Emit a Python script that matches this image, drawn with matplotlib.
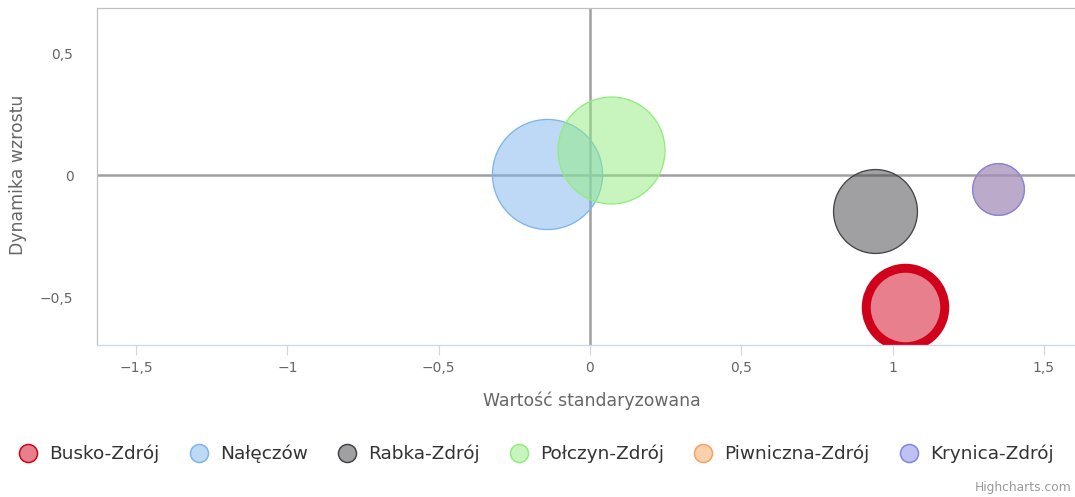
import matplotlib
matplotlib.use('Agg')
from matplotlib import pyplot as plt
from matplotlib.lines import Line2D
from matplotlib.colors import to_rgba
import numpy as np

# data
series = ['Busko-Zdrój', 'Nałęczów', 'Rabka-Zdrój', 'Połczyn-Zdrój', 'Piwniczna-Zdrój', 'Krynica-Zdrój']
x_vals = [1.04, -0.142, 0.941, 0.068, 1.35, 1.35]
y_vals = [-0.539, 0.006, -0.145, 0.105, -0.055, -0.055]
z_vals = [15.4, 30.3, 17.6, 28.6, 6.7, 6.7]
colors = ['#d0021b', '#7cb5ec', '#434348', '#90ed7d', '#f7a35c', '#8085e9']

x_ticks = [-1.5, -1, -0.5, 0, 0.5, 1, 1.5]
x_tick_labels = ['−1,5', '−1', '−0,5', '0', '0,5', '1', '1,5']
y_ticks = [-0.5, 0, 0.5]
y_tick_labels = ['−0,5', '0', '0,5']

W, H = 1075, 497
fig = plt.figure(figsize=(W / 100, H / 100), dpi=100)
ax = fig.add_axes([97 / W, 1 - 345 / H, 978 / W, 337 / H])

ax.set_xlim(-1.629, 1.603)
ax.set_ylim(-0.695, 0.686)

# zero lines
ax.axhline(0, color='#a0a0a0', lw=1.8, zorder=1)
ax.axvline(0, color='#a0a0a0', lw=1.8, zorder=1)

px = 0.72  # points per pixel
for i, name in enumerate(series):
    r = 10 * np.sqrt(z_vals[i])
    lw = 1.3
    if name == 'Busko-Zdrój':
        lw = 9  # selected point
    ax.scatter([x_vals[i]], [y_vals[i]], s=(2 * r * px) ** 2,
               facecolor=to_rgba(colors[i], 0.5), edgecolor=colors[i],
               linewidth=lw * px, zorder=2 + i, clip_on=True)

ax.set_xticks(x_ticks)
ax.set_xticklabels(x_tick_labels)
ax.set_yticks(y_ticks)
ax.set_yticklabels(y_tick_labels)
ax.tick_params(axis='x', length=7.2, width=0.8, color='#ccd6eb', labelcolor='#666666',
               labelsize=10, pad=4)
ax.tick_params(axis='y', length=0, labelcolor='#666666', labelsize=10, pad=17)

for s in ['top', 'left']:
    ax.spines[s].set_color('#c0c0c0')
    ax.spines[s].set_linewidth(0.9)
ax.spines['bottom'].set_color('#ccd6eb')
ax.spines['bottom'].set_linewidth(0.9)
ax.spines['bottom'].set_zorder(10)
ax.spines['right'].set_visible(False)

ax.set_xlabel('Wartość standaryzowana', fontsize=12.4, color='#666666', va='center')
ax.xaxis.set_label_coords(0.5056, -0.166)
ax.set_ylabel('Dynamika wzrostu', fontsize=12.4, color='#666666', va='center', ha='center')
ax.yaxis.set_label_coords(-0.0808, 0.504)

handles = [Line2D([], [], ls='none', marker='o', markersize=13,
                  markerfacecolor=to_rgba(c, 0.5), markeredgecolor=c, markeredgewidth=1.1)
           for c in colors]
fig.legend(handles, series, ncol=6, loc='center left', bbox_to_anchor=(18.75 / W, 1 - 454 / H),
           frameon=False, fontsize=13.3, labelcolor='#333333', handlelength=1.0,
           handletextpad=0.64, columnspacing=1.63, borderpad=0, borderaxespad=0)

fig.text(1 - 4 / W, 1 - 487 / H, 'Highcharts.com', color='#999999', fontsize=8.8,
         va='center', ha='right')

fig.savefig('out.png', dpi=100)
